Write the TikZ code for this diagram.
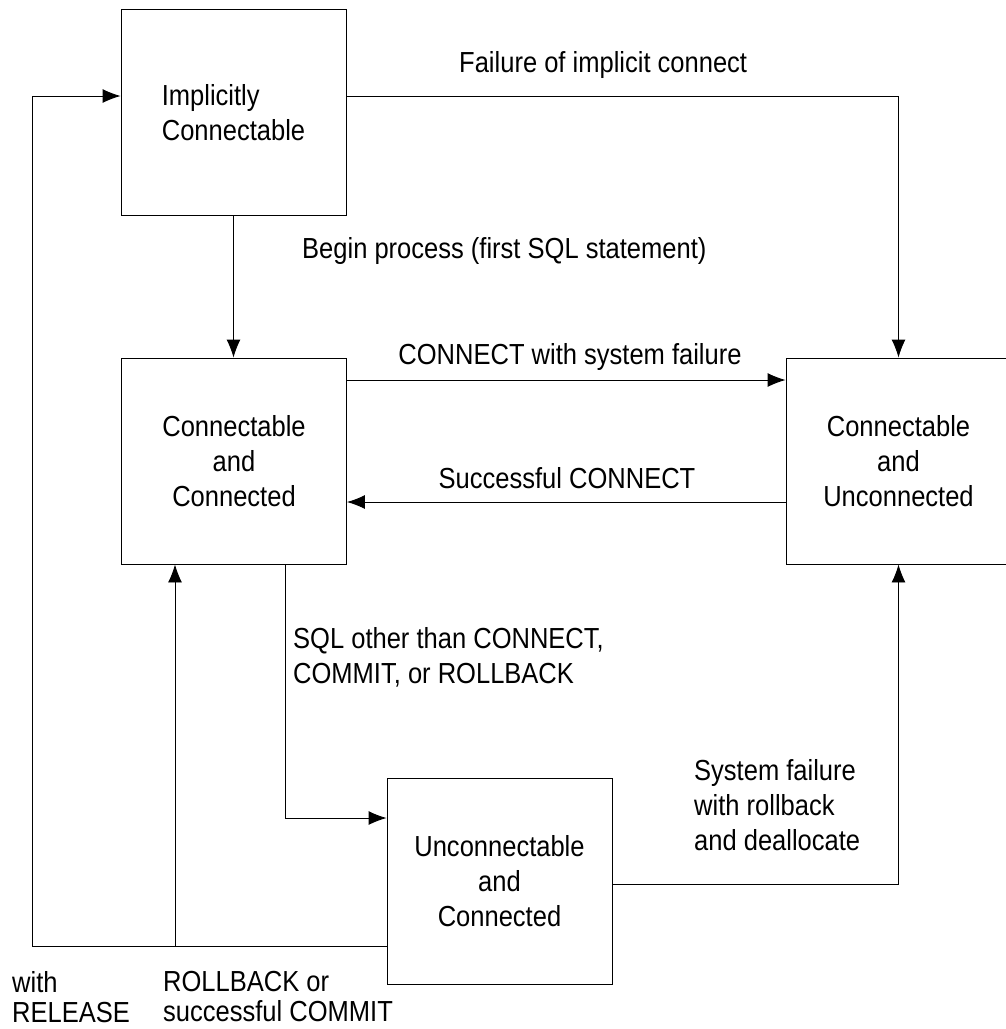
\documentclass[tikz,border=0pt]{standalone}
\usepackage{fontspec}
\setmainfont[FakeStretch=0.88]{Liberation Sans}
\usepackage{tikz}
\usetikzlibrary{positioning,arrows.meta}
\tikzset{
  flowarrow/.style={-{Latex[length=18pt,width=14pt]}, line width=0.9pt},
  statebox/.style={draw, line width=0.9pt, minimum width=225pt, minimum height=206pt, inner sep=0pt, align=center},
  relabel/.style={inner sep=0pt, align=left}
}
\begin{document}
\begin{tikzpicture}[x=1pt, y=-1pt, >=Latex, every node/.style={font=\fontsize{29}{35}\selectfont}]
  \useasboundingbox (0,0) rectangle (1005,1029);
  \node[statebox, align=left] (implicit) at (233.5,112.5) {Implicitly\\Connectable};
  \node[statebox] (connected) at (234,461) {Connectable\\and\\Connected};
  \node[statebox] (unconnected) at (898.5,461) {Connectable\\and\\Unconnected};
  \node[statebox] (locked) at (499.5,881.5) {Unconnectable\\and\\Connected};
  \coordinate (releasecorner) at (32,946);
  \coordinate (commitjoin) at (175,946);
  \draw[flowarrow] ([yshift=16.5pt]implicit.east) -| (unconnected.north);
  \draw[flowarrow] (implicit.south) -- (implicit.south |- connected.north);
  \draw[flowarrow] ([yshift=81pt]connected.east) -- ([yshift=81pt]unconnected.west);
  \draw[flowarrow] ([yshift=-41pt]unconnected.west) -- ([yshift=-41pt]connected.east);
  \draw[flowarrow] ([xshift=51pt]connected.south) |- ([yshift=63.5pt]locked.west);
  \draw[flowarrow] ([yshift=-2.5pt]locked.east) -| (unconnected.south);
  \draw[flowarrow] ([yshift=-64.5pt]locked.west) -- (releasecorner) |- ([yshift=16.5pt]implicit.west);
  \draw[flowarrow] (commitjoin) -- (commitjoin |- connected.south);
  \node[relabel, anchor=west] (failurelbl) at (459,65) {Failure of implicit connect};
  \node[relabel, anchor=west] (beginlbl) at (302,251) {Begin process (first SQL statement)};
  \node[relabel] (connfaillbl) at (570,357) {CONNECT with system failure};
  \node[relabel] (connoklbl) at (567,478) {Successful CONNECT};
  \node[relabel, anchor=west] (sqllbl) at (293,657) {SQL other than CONNECT,\\COMMIT, or ROLLBACK};
  \node[relabel, anchor=west] (syslbl) at (694,805) {System failure\\with rollback\\and deallocate};
  \node[relabel, anchor=west, font=\fontsize{29}{30}\selectfont] (releaselbl) at (12,997) {with\\RELEASE};
  \node[relabel, anchor=west, font=\fontsize{29}{30}\selectfont] (commitlbl) at (163,997) {ROLLBACK or\\successful COMMIT};
\end{tikzpicture}
\end{document}
